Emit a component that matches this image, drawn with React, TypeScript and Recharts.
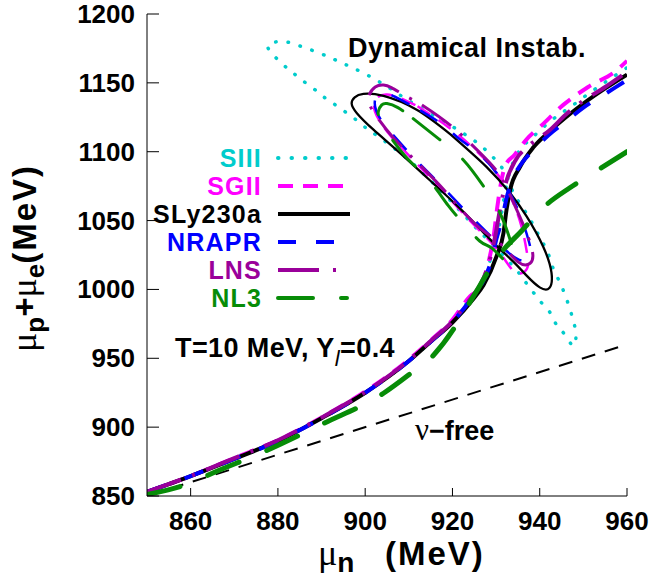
import { LineChart, Line, XAxis, YAxis } from "recharts";

type Pt = [number, number];

const X_TICKS = [860, 880, 900, 920, 940, 960];
const Y_TICKS = [850, 900, 950, 1000, 1050, 1100, 1150, 1200];

// beta-equilibrium without neutrinos: mu_p + mu_e = mu_n
const NU_FREE: Pt[] = [[850, 850], [960, 960]];

// trajectories at T=10 MeV, Y_l=0.4
const SIII_MAIN: Pt[] = [[850, 853], [860, 864.5], [870, 877], [880, 890], [890, 906.5], [900, 925], [910, 948], [915, 962], [920, 977], [924.5, 995], [926.5, 1003], [929, 1025], [930.9, 1049], [931.6, 1062], [932.6, 1079], [934, 1093], [935.9, 1103], [938.2, 1110], [942, 1121], [947.7, 1134], [952, 1144], [957.6, 1156], [960, 1161]];
const SGII_MAIN: Pt[] = [[850, 853], [860, 864.5], [870, 877.5], [880, 890.5], [890, 907], [900, 926], [910, 949], [915, 963], [920, 978], [924, 995], [926.3, 1001], [928.2, 1019], [929.5, 1040], [930.2, 1058], [931, 1075], [932, 1089], [934.3, 1098], [937, 1109], [940.4, 1119], [945.4, 1134], [951.1, 1147], [957.6, 1159], [960, 1166]];
const SLY_MAIN: Pt[] = [[850, 853], [860, 864.5], [870, 877], [880, 890], [890, 906.5], [900, 925], [910, 948], [915, 962], [920, 976], [925, 994], [927.1, 1003], [930.1, 1024], [931.7, 1041], [932.4, 1058], [933.2, 1072], [935.5, 1089], [938.5, 1103], [942, 1114], [946, 1125], [950, 1135], [955, 1146], [960, 1156]];
const NRAPR_MAIN: Pt[] = [[850, 853], [860, 864.5], [870, 877], [880, 890], [890, 906.5], [900, 925], [910, 948], [915, 962], [920, 976.5], [924.5, 994], [926.7, 1004], [929, 1022], [930.1, 1037], [931.3, 1050], [932.3, 1065], [933.6, 1079], [935.5, 1090], [938.5, 1101], [942, 1112], [946, 1122], [950, 1132], [955, 1142], [960, 1152]];
const LNS_MAIN: Pt[] = [[850, 853], [860, 864.5], [870, 877.5], [880, 890.5], [890, 907], [900, 925.5], [910, 948.5], [915, 962.5], [920, 977], [924.5, 995], [926.5, 1004], [928.6, 1022], [930, 1042], [931, 1060], [932.3, 1078], [934.5, 1094], [937.4, 1104], [942.4, 1116], [946, 1127], [950, 1137], [955, 1147], [960, 1158]];
const NL3_MAIN: Pt[] = [[850, 851], [860, 859.5], [866, 868], [876, 881], [890.5, 902.8], [904.2, 924.6], [910, 938], [915.7, 952.4], [920, 970], [922.5, 983], [925.2, 997], [928, 1012], [931, 1026], [936, 1043], [941, 1060], [947, 1074], [953, 1086], [960, 1100]];

// dynamical instability borders (closed)
const SIII_LOOP: Pt[] = [[905.7, 1146], [911, 1135], [918, 1122], [925, 1108], [929, 1097], [932, 1085], [934, 1070], [937, 1055], [939.5, 1041], [941.8, 1027], [943.1, 1015], [944.5, 1006], [945.8, 996], [946.9, 986], [947.8, 976], [948.3, 967], [947.7, 959], [945.8, 967], [943.9, 974], [942.4, 983], [940.5, 990], [938.5, 998], [936.6, 1006], [934.7, 1014], [930, 1030], [925, 1046], [920, 1063], [915, 1079], [910, 1094], [906, 1104], [902.6, 1112], [900.3, 1117], [898, 1123], [895.4, 1129], [892.7, 1135], [890.4, 1140], [888.1, 1146], [885.5, 1152], [883.2, 1158], [880.9, 1164], [878.6, 1171.5], [877.8, 1178], [880.9, 1180], [883.9, 1178], [889.6, 1171.5], [895, 1164], [900.3, 1156], [905.7, 1146]];
const SGII_LOOP: Pt[] = [[912, 1133], [919, 1118], [925, 1102], [930, 1085], [933.5, 1066], [935.8, 1046], [937, 1028], [937.2, 1016], [935.5, 1011.5], [933.5, 1015], [930, 1030], [924, 1050], [917, 1074], [911, 1094], [906, 1111], [903, 1124], [902, 1133], [902.8, 1139.5], [905, 1141.5], [908, 1139], [912, 1133]];
const SLY_LOOP: Pt[] = [[919.4, 1113], [927.8, 1089], [933.2, 1070], [937, 1053], [940.8, 1031], [942.7, 1012], [942.2, 1001], [940, 1001.5], [937, 1010], [934, 1020], [930, 1032], [926, 1045], [921, 1061], [915.6, 1077], [908, 1099], [901.9, 1116], [898.1, 1128], [896.9, 1135], [897.6, 1139.5], [899.6, 1142], [904.2, 1140.5], [911.8, 1130.5], [919.4, 1113]];
const NRAPR_LOOP: Pt[] = [[912.6, 1130], [918, 1119], [921.7, 1109], [925.6, 1100], [930, 1085], [933.5, 1068], [936, 1050], [937.5, 1035], [937.8, 1027], [936.5, 1021], [933.5, 1025], [929, 1038], [923, 1057], [916, 1080], [911, 1096], [907, 1110], [904.2, 1120.6], [902.5, 1130], [902.3, 1138], [903.5, 1141.5], [905.5, 1141.5], [908, 1138], [912.6, 1130]];
const LNS_LOOP: Pt[] = [[913, 1134], [920, 1118], [927, 1097], [931, 1082], [934, 1063], [936.5, 1045], [938.3, 1028], [937.8, 1019], [935, 1020], [931, 1033], [925, 1048], [918.7, 1070], [912, 1092], [906.5, 1110], [903, 1124], [901, 1134], [900.9, 1141], [902.3, 1147], [904.2, 1148.4], [906, 1146.5], [909, 1141], [913, 1134]];
const NL3_LOOP: Pt[] = [[911, 1124], [917, 1109], [922.5, 1094], [927.1, 1075], [930.5, 1058], [932.8, 1040], [934, 1026], [933.6, 1020], [932, 1021], [929, 1030], [926.3, 1035], [922.5, 1048], [919, 1061], [914.5, 1080], [910, 1094], [905.7, 1111], [903.5, 1122], [903, 1129], [903.8, 1134], [905, 1135], [907.5, 1132], [911, 1124]];

const SANS = "'Liberation Sans', Arial, Helvetica, sans-serif";
const SERIF = "'Liberation Serif', 'DejaVu Serif', serif";

const models = [
  { name: "SIII", color: "#00cccc", main: SIII_MAIN, loop: SIII_LOOP, dash: "0.5 12", legendDash: "0.5 13", w: 3.5, lw: 3.5, cap: "round" },
  { name: "SGII", color: "#ff00ff", main: SGII_MAIN, loop: SGII_LOOP, dash: "15 10", legendDash: "15 10", w: 4, lw: 2.5, cap: "butt" },
  { name: "SLy230a", color: "#000000", main: SLY_MAIN, loop: SLY_LOOP, dash: undefined, legendDash: undefined, w: 4, lw: 2.3, cap: "butt" },
  { name: "NRAPR", color: "#0000ff", main: NRAPR_MAIN, loop: NRAPR_LOOP, dash: "20 20", legendDash: "18 20", w: 4, lw: 2.5, cap: "butt" },
  { name: "LNS", color: "#9a009a", main: LNS_MAIN, loop: LNS_LOOP, dash: "36 12 3 12", legendDash: "41 14 3 100", w: 4, lw: 3, cap: "butt" },
  { name: "NL3", color: "#078c07", main: NL3_MAIN, loop: NL3_LOOP, dash: "34 30", legendDash: "35 28 6 100", w: 5, lw: 3, cap: "round" },
];

const LEGEND_Y = [158, 186, 214, 242, 270, 298];

const toData = (pts: Pt[]) => pts.map(([x, y]) => ({ x, y }));

function BottomTick(props: any) {
  const { x, y, payload } = props;
  return (
    <g>
      <line x1={x} x2={x} y1={y} y2={y - 8} stroke="#000" />
      <text x={x} y={y + 34} textAnchor="middle" fontFamily={SANS} fontWeight="bold" fontSize={26} fill="#000">
        {payload.value}
      </text>
    </g>
  );
}

function LeftTick(props: any) {
  const { x, y, payload } = props;
  return (
    <g>
      <line x1={x} x2={x + 12} y1={y} y2={y} stroke="#000" />
      <text x={x - 12} y={y + 9} textAnchor="end" fontFamily={SANS} fontWeight="bold" fontSize={26} fill="#000">
        {payload.value}
      </text>
    </g>
  );
}

function TopTick(props: any) {
  const { x, y } = props;
  return <line x1={x} x2={x} y1={y} y2={y + 8} stroke="#000" />;
}

function RightTick(props: any) {
  const { x, y } = props;
  return <line x1={x} x2={x - 12} y1={y} y2={y} stroke="#000" />;
}

export default function App() {
  return (
    <div style={{ position: "absolute", left: 0, top: 0, width: 664, height: 580, background: "#fff" }}>
      <LineChart width={664} height={580} margin={{ top: 14, right: 37, bottom: 0, left: 0 }}>
        <XAxis
          dataKey="x"
          type="number"
          domain={[850, 960]}
          ticks={X_TICKS}
          interval={0}
          allowDataOverflow
          height={84}
          tickSize={0}
          tickMargin={0}
          tickLine={false}
          axisLine={{ stroke: "#000" }}
          tick={<BottomTick />}
        />
        <XAxis
          xAxisId="top"
          orientation="top"
          dataKey="x"
          type="number"
          domain={[850, 960]}
          ticks={X_TICKS}
          interval={0}
          allowDataOverflow
          height={0}
          tickSize={0}
          tickMargin={0}
          tickLine={false}
          axisLine={{ stroke: "#000" }}
          tick={<TopTick />}
        />
        <YAxis
          type="number"
          domain={[850, 1200]}
          ticks={Y_TICKS}
          interval={0}
          allowDataOverflow
          width={147}
          tickSize={0}
          tickMargin={0}
          tickLine={false}
          axisLine={{ stroke: "#000" }}
          tick={<LeftTick />}
        />
        <YAxis
          yAxisId="right"
          orientation="right"
          type="number"
          domain={[850, 1200]}
          ticks={Y_TICKS}
          interval={0}
          allowDataOverflow
          width={0}
          tickSize={0}
          tickMargin={0}
          tickLine={false}
          axisLine={{ stroke: "#000" }}
          tick={<RightTick />}
        />

        <Line
          xAxisId="top"
          yAxisId="right"
          data={toData(NU_FREE)}
          dataKey="y"
          type="linear"
          stroke="#000"
          strokeWidth={2}
          strokeDasharray="14 10"
          dot={false}
          activeDot={false}
          isAnimationActive={false}
        />

        {models.flatMap((m) => [
          <Line
            key={m.name + "-loop"}
            data={toData(m.loop)}
            dataKey="y"
            type="natural"
            stroke={m.color}
            strokeWidth={m.lw}
            strokeDasharray={m.dash}
            strokeLinecap={m.cap as any}
            dot={false}
            activeDot={false}
            isAnimationActive={false}
          />,
          <Line
            key={m.name + "-main"}
            data={toData(m.main)}
            dataKey="y"
            type="monotone"
            stroke={m.color}
            strokeWidth={m.w}
            strokeDasharray={m.dash}
            strokeLinecap={m.cap as any}
            dot={false}
            activeDot={false}
            isAnimationActive={false}
          />,
        ])}
      </LineChart>

      <svg width={664} height={580} style={{ position: "absolute", left: 0, top: 0, pointerEvents: "none" }}>
        <g fontFamily={SANS} fontWeight="bold" fill="#000">
          <text x={348} y={57} fontSize={27} letterSpacing={0.5}>Dynamical Instab.</text>

          {models.map((m, i) => (
            <g key={m.name}>
              <text x={262} y={LEGEND_Y[i] + 9} fontSize={25} letterSpacing={1.2} textAnchor="end" fill={m.color}>
                {m.name}
              </text>
              <line
                x1={278}
                x2={350}
                y1={LEGEND_Y[i]}
                y2={LEGEND_Y[i]}
                stroke={m.color}
                strokeWidth={4}
                strokeDasharray={m.legendDash}
                strokeLinecap={m.cap as any}
              />
            </g>
          ))}

          <text x={175} y={357} fontSize={27} letterSpacing={0.4}>
            T=10 MeV, Y
            <tspan fontStyle="italic" fontWeight="normal" fontSize={22} dy={9}>l</tspan>
            <tspan dy={-9}>=0.4</tspan>
          </text>

          <text x={415} y={440} fontSize={27}>
            <tspan fontFamily={SERIF} fontWeight="normal" fontSize={31}>ν</tspan>
            <tspan>−free</tspan>
          </text>

          <text x={318} y={565} fontSize={28}>
            <tspan fontFamily={SERIF} fontWeight="normal" fontSize={36}>μ</tspan>
            <tspan dy={7}>n</tspan>
          </text>
          <text x={385} y={565} fontSize={33} letterSpacing={2}>(MeV)</text>

          <g transform="translate(36, 352) rotate(-90)">
            <text x={0} y={0} fontSize={33}>
              <tspan fontFamily={SERIF} fontWeight="normal" fontSize={36}>μ</tspan>
              <tspan fontSize={26} dy={8}>p</tspan>
              <tspan dy={-8}>+</tspan>
              <tspan fontFamily={SERIF} fontWeight="normal" fontSize={36}>μ</tspan>
              <tspan fontSize={26} dy={8}>e</tspan>
              <tspan dy={-8} letterSpacing={2}>(MeV)</tspan>
            </text>
          </g>
        </g>
      </svg>
    </div>
  );
}
